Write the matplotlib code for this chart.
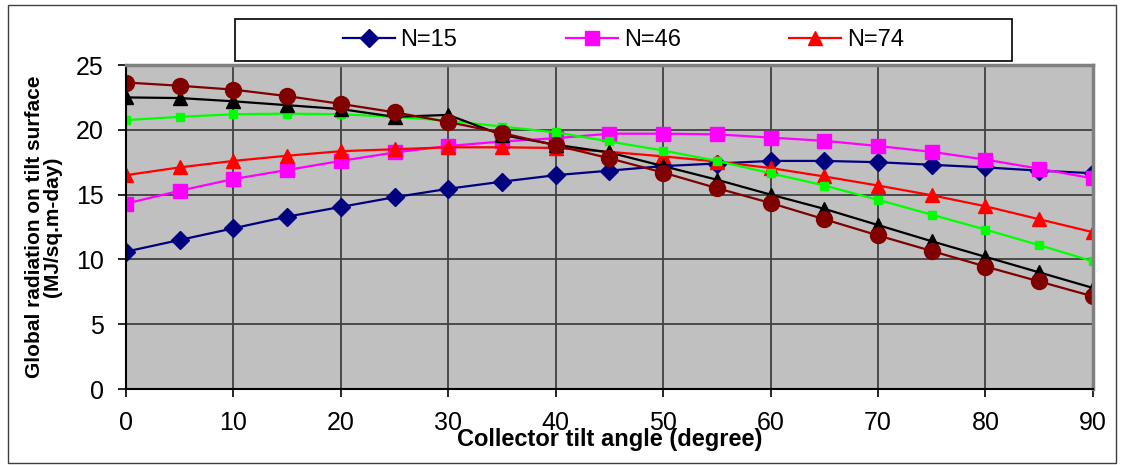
import matplotlib
matplotlib.use("Agg")
import matplotlib.pyplot as plt
from matplotlib.patches import Rectangle

plt.rcParams['font.family'] = ['Liberation Sans', 'DejaVu Sans']

# tilt angles (degree)
tilt = [0, 5, 10, 15, 20, 25, 30, 35, 40, 45, 50, 55, 60, 65, 70, 75, 80, 85, 90]

# global radiation on tilt surface (MJ/sq.m-day)
n15 = [10.6, 11.5, 12.4, 13.3, 14.05, 14.8, 15.45, 16.0, 16.5, 16.85, 17.2, 17.4, 17.6, 17.6,
       17.5, 17.3, 17.1, 16.85, 16.65]
n46 = [14.3, 15.3, 16.2, 16.9, 17.6, 18.25, 18.75, 19.1, 19.35, 19.7, 19.7, 19.65, 19.4, 19.15,
       18.75, 18.3, 17.7, 17.0, 16.25]
n74 = [16.5, 17.1, 17.6, 18.0, 18.35, 18.5, 18.65, 18.65, 18.6, 18.3, 17.95, 17.55, 17.05, 16.4,
       15.7, 14.95, 14.1, 13.1, 12.1]
green_vals = [20.75, 21.0, 21.2, 21.25, 21.2, 21.0, 20.7, 20.25, 19.8, 19.1, 18.4, 17.6, 16.65,
              15.7, 14.6, 13.45, 12.3, 11.1, 9.85]
black_vals = [22.5, 22.45, 22.2, 21.9, 21.6, 21.0, 21.15, 19.6, 18.85, 18.25, 17.2, 16.15, 15.0,
              13.9, 12.65, 11.4, 10.2, 9.0, 7.8]
maroon_vals = [23.65, 23.4, 23.1, 22.6, 22.0, 21.35, 20.6, 19.75, 18.8, 17.8, 16.7, 15.5, 14.35,
               13.1, 11.85, 10.65, 9.45, 8.3, 7.15]

fig = plt.figure(figsize=(11.23, 4.65), dpi=100)
ax = fig.add_axes([0.1122, 0.1634, 0.861, 0.6968])
ax.set_facecolor('#C0C0C0')

ax.plot(tilt, n15, color='#000080', marker='D', markersize=9, lw=1.6, label='N=15')
ax.plot(tilt, n46, color='#FF00FF', marker='s', markersize=10.5, lw=1.6, label='N=46')
ax.plot(tilt, n74, color='#FF0000', marker='^', markersize=10.5, lw=1.6, label='N=74')
ax.plot(tilt, green_vals, color='#00FF00', marker='s', markersize=5.5, lw=1.6, label='_nolegend_')
ax.plot(tilt, black_vals, color='black', marker='^', markersize=10, lw=1.6, label='_nolegend_')
ax.plot(tilt, maroon_vals, color='#800000', marker='o', markersize=11.5, lw=1.6, label='_nolegend_')

ax.set_xlim(0, 90)
ax.set_ylim(0, 25)
ax.set_xticks(range(0, 91, 10))
ax.set_yticks(range(0, 26, 5))
ax.tick_params(labelsize=18, length=6, width=1.2, direction='out')
ax.tick_params(axis='x', pad=10)
ax.tick_params(axis='y', pad=10)
ax.grid(True, color='#404040', lw=1.3)
ax.set_axisbelow(True)

for s in ['top', 'right']:
    ax.spines[s].set_color('#808080')
    ax.spines[s].set_linewidth(2.5)
for s in ['left', 'bottom']:
    ax.spines[s].set_color('black')
    ax.spines[s].set_linewidth(1.5)

ax.set_xlabel('Collector tilt angle (degree)', fontsize=17, fontweight='bold', labelpad=-5)
ax.set_ylabel('Global radiation on tilt surface\n(MJ/sq.m-day)', fontsize=15,
              fontweight='bold', labelpad=10, linespacing=0.95)

# legend box
fig.patches.append(Rectangle((0.2093, 0.8688), 0.692, 0.0903, transform=fig.transFigure,
                             facecolor='white', edgecolor='black', lw=1.2, zorder=0))
fig.legend(loc='center', bbox_to_anchor=(0.5552, 0.914), ncol=3, frameon=False, fontsize=17,
           handlelength=2.2, handletextpad=0.25, columnspacing=4.6)

# outer frame
fig.patches.append(Rectangle((0.007, 0.004), 0.987, 0.985, transform=fig.transFigure,
                             facecolor='none', edgecolor='#404040', lw=1.0))

fig.savefig('out.png', dpi=100)
